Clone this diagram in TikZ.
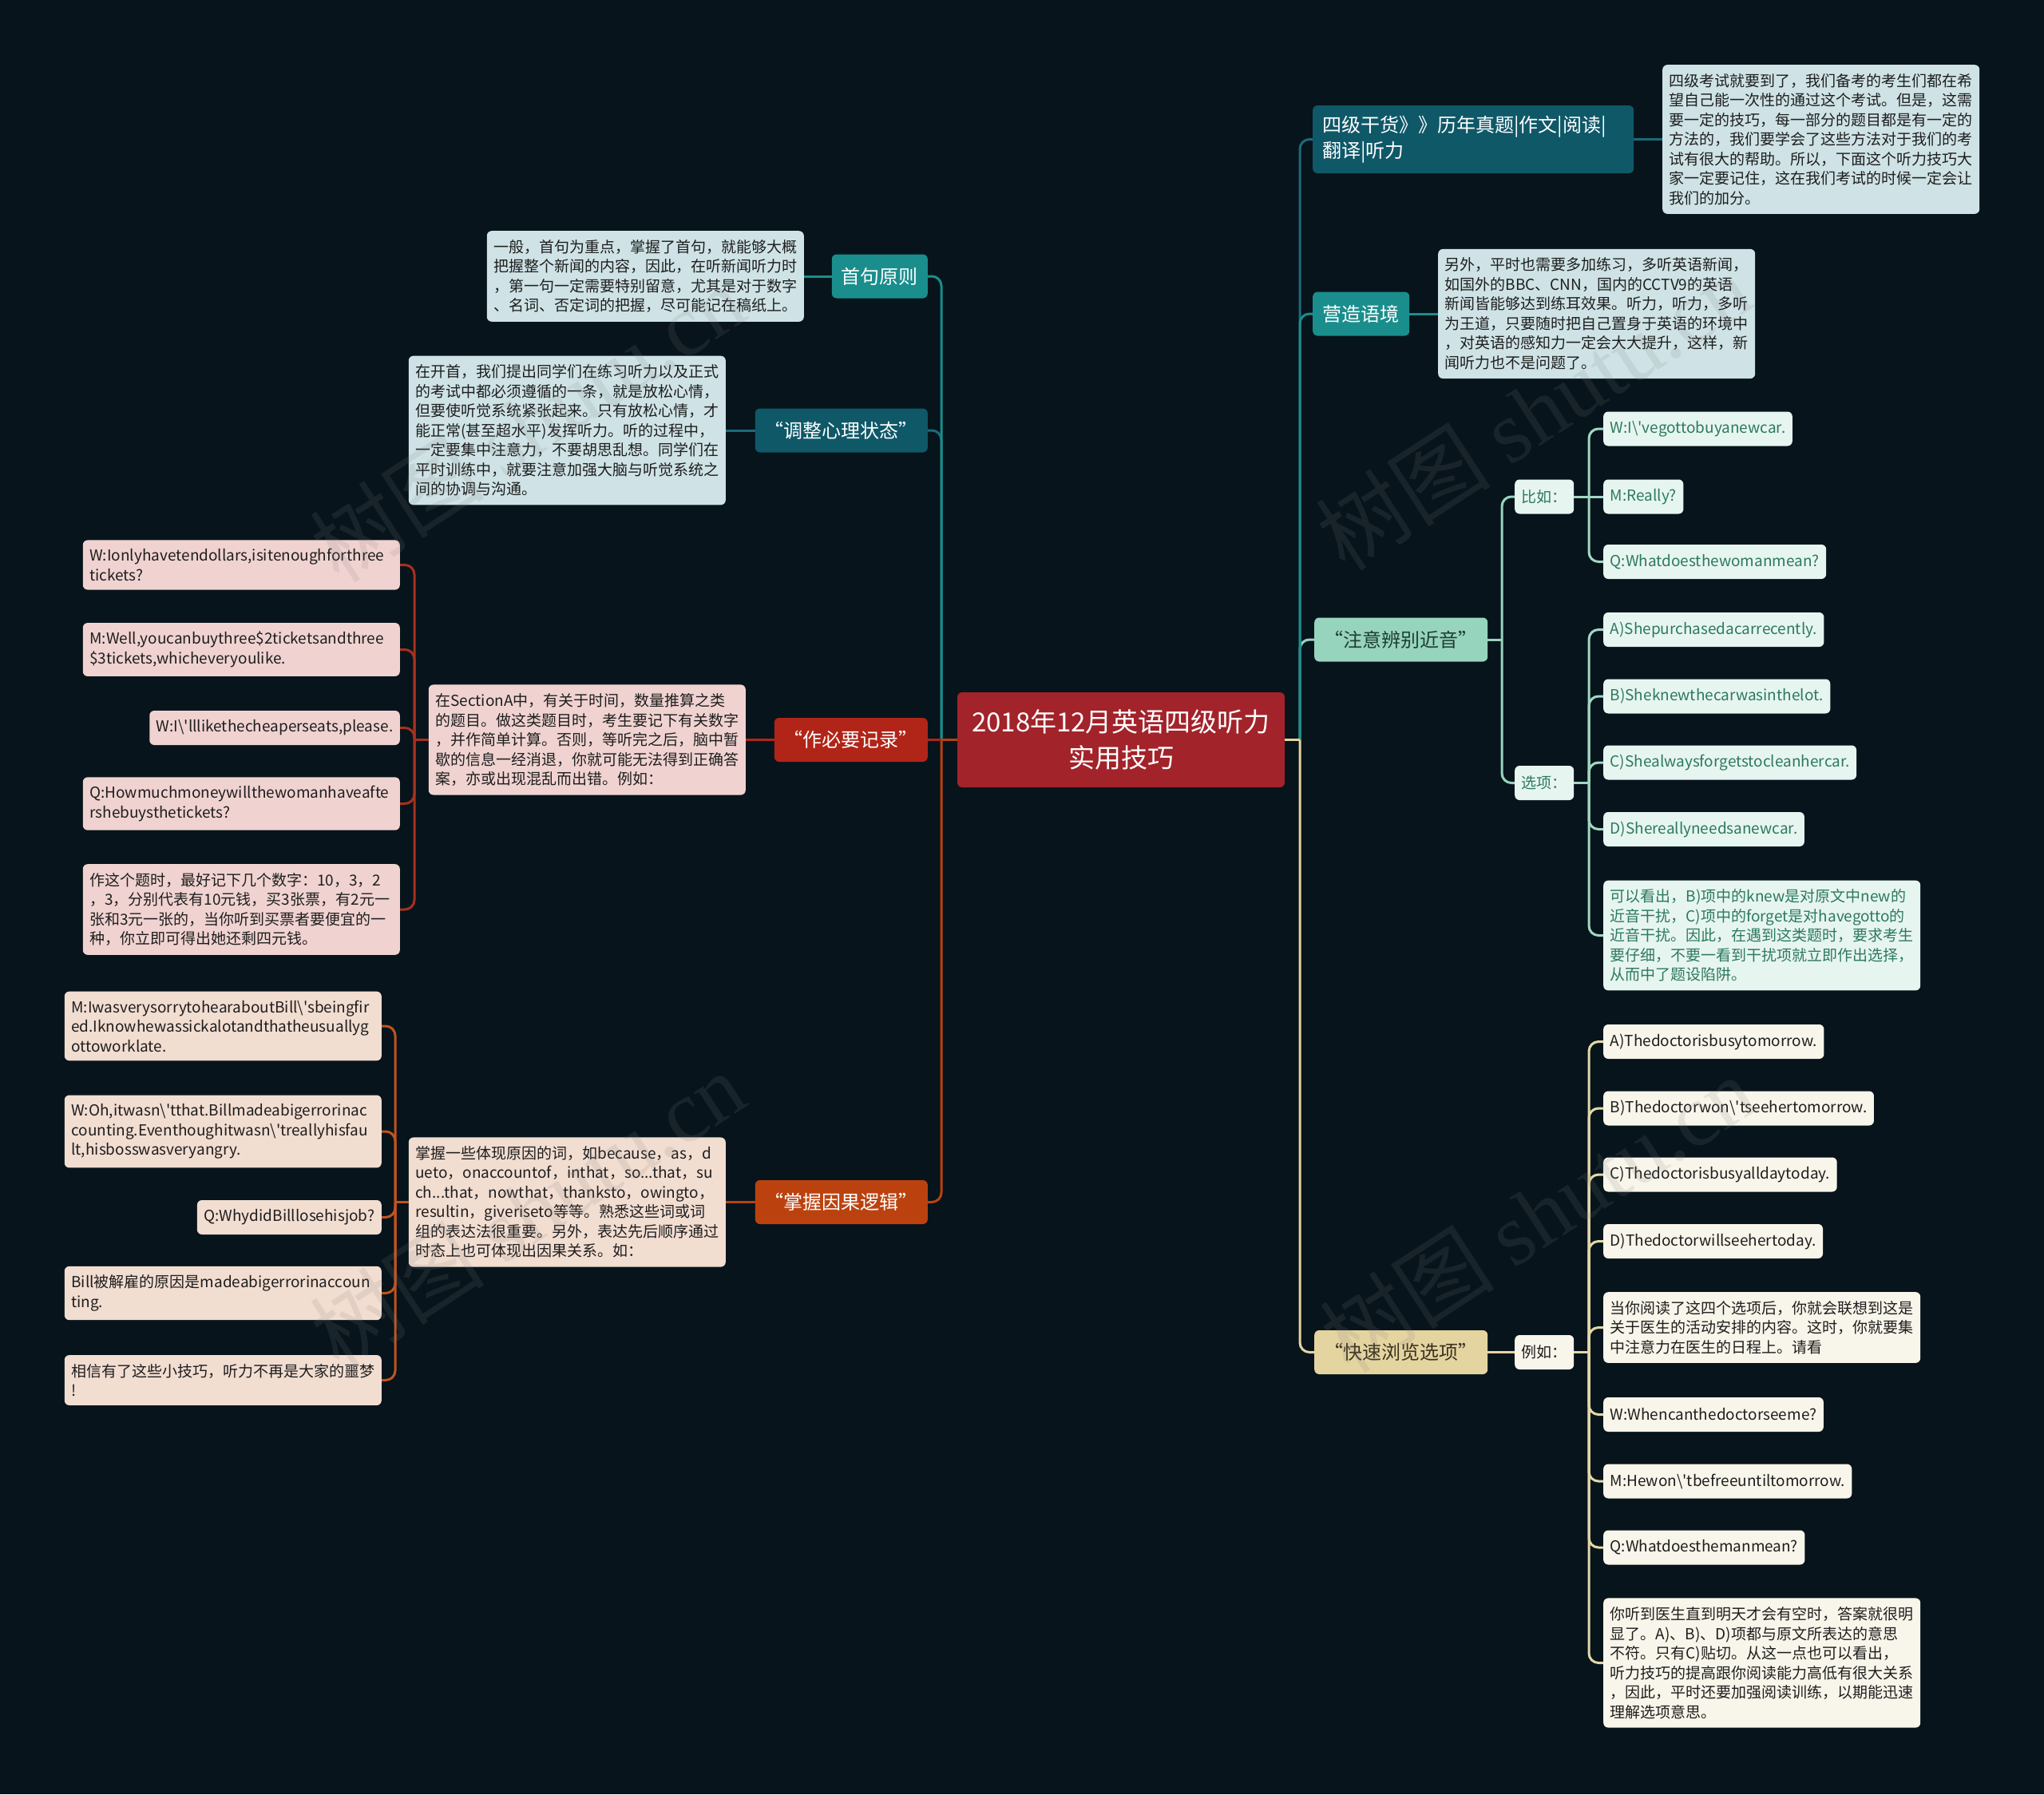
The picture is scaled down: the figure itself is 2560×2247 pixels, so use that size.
\documentclass[tikz,border=0pt]{standalone}
\usepackage{fontspec}
\setmainfont{Noto Sans CJK SC}[Ligatures=TeXOff]
\newfontfamily\wmserif{Liberation Serif}
\definecolor{bgc}{HTML}{07141B}
\definecolor{cRoot}{HTML}{A2232A}
\definecolor{cTeal}{HTML}{1A8E8C}
\definecolor{cDteal}{HTML}{0F5868}
\definecolor{cDtealL}{HTML}{1B6A7A}
\definecolor{cMint}{HTML}{97D4BD}
\definecolor{cMintTxt}{HTML}{1E3E33}
\definecolor{cKhaki}{HTML}{E4D4A0}
\definecolor{cKhakiTxt}{HTML}{3B3220}
\definecolor{cRed}{HTML}{B02518}
\definecolor{cOrange}{HTML}{BB420F}
\definecolor{cBlue}{HTML}{CFE3E6}
\definecolor{cMintLeaf}{HTML}{E7F5F0}
\definecolor{cMintLeafTxt}{HTML}{2C7A5D}
\definecolor{cMintLine}{HTML}{A2D7C3}
\definecolor{cCream}{HTML}{F8F5EA}
\definecolor{cCreamLine}{HTML}{E4D8A8}
\definecolor{cPink}{HTML}{F0D3D1}
\definecolor{cPinkLine}{HTML}{A8301F}
\definecolor{cPeach}{HTML}{F2DDD1}
\definecolor{cPeachLine}{HTML}{C0541E}
\definecolor{cTxt}{HTML}{1E1E1E}
\tikzset{
  box/.style={rounded corners=6pt, inner xsep=8.5pt, inner ysep=11pt, font=\fontsize{19}{24.5}\selectfont, text=cTxt},
  multi/.style={box, text width=380pt, align=left},
  single/.style={box, minimum height=43pt, inner ysep=4pt},
  bluebox/.style={multi, fill=cBlue},
  pinkm/.style={multi, fill=cPink}, pinks/.style={single, fill=cPink},
  peachm/.style={multi, fill=cPeach}, peachs/.style={single, fill=cPeach},
  mintm/.style={multi, fill=cMintLeaf, text=cMintLeafTxt}, mints/.style={single, fill=cMintLeaf, text=cMintLeafTxt},
  creamm/.style={multi, fill=cCream}, creams/.style={single, fill=cCream},
  topic/.style={rounded corners=6pt, minimum height=55pt, inner xsep=12pt, font=\fontsize{24}{32}\selectfont, text=white},
  rootbox/.style={rounded corners=6pt, fill=cRoot, text=white, minimum width=410pt, minimum height=119pt, align=center, font=\fontsize{33}{45}\selectfont},
  conn/.style={line width=3pt, rounded corners=12pt},
  wm/.style={rotate=33, text=gray, opacity=0.15, font=\fontsize{110}{110}\selectfont}
}
\begin{document}
\begin{tikzpicture}[x=1pt,y=-1pt]
\fill[bgc] (0,0) rectangle (2560,2247);
\useasboundingbox (0,0) rectangle (2560,2247);

% root
\node[rootbox] (root) at (1404,926.5) {2018年12月英语四级听力\\实用技巧};

% right topics
\node[topic, fill=cDteal, anchor=west, text width=378pt, align=left, minimum height=85pt] (m1) at (1644,174.5) {四级干货》》历年真题|作文|阅读|\\翻译|听力};
\node[topic, fill=cTeal, anchor=west, minimum width=121pt] (m2) at (1644,393) {营造语境};
\node[topic, fill=cMint, text=cMintTxt, anchor=west, minimum width=217pt] (m3) at (1646,801) {“注意辨别近音”};
\node[topic, fill=cKhaki, text=cKhakiTxt, anchor=west, minimum width=217pt] (m4) at (1646,1693.5) {“快速浏览选项”};

% left topics
\node[topic, fill=cTeal, anchor=east, minimum width=120pt] (l1) at (1162,346) {首句原则};
\node[topic, fill=cDteal, anchor=east, minimum width=215pt] (l2) at (1162,539) {“调整心理状态”};
\node[topic, fill=cRed, anchor=east, minimum width=192pt] (l3) at (1162,926.5) {“作必要记录”};
\node[topic, fill=cOrange, anchor=east, minimum width=215pt] (l4) at (1162,1505.5) {“掌握因果逻辑”};

% descriptions
\node[bluebox, anchor=west] (d1) at (2082,174.5) {四级考试就要到了，我们备考的考生们都在希\\望自己能一次性的通过这个考试。但是，这需\\要一定的技巧，每一部分的题目都是有一定的\\方法的，我们要学会了这些方法对于我们的考\\试有很大的帮助。所以，下面这个听力技巧大\\家一定要记住，这在我们考试的时候一定会让\\我们的加分。};
\node[bluebox, anchor=west] (d2) at (1801,393) {另外，平时也需要多加练习，多听英语新闻，\\如国外的BBC、CNN，国内的CCTV9的英语\\新闻皆能够达到练耳效果。听力，听力，多听\\为王道，只要随时把自己置身于英语的环境中\\，对英语的感知力一定会大大提升，这样，新\\闻听力也不是问题了。};
\node[bluebox, anchor=east] (dl1) at (1007,346) {一般，首句为重点，掌握了首句，就能够大概\\把握整个新闻的内容，因此，在听新闻听力时\\，第一句一定需要特别留意，尤其是对于数字\\、名词、否定词的把握，尽可能记在稿纸上。};
\node[bluebox, anchor=east] (dl2) at (909,539) {在开首，我们提出同学们在练习听力以及正式\\的考试中都必须遵循的一条，就是放松心情，\\但要使听觉系统紧张起来。只有放松心情，才\\能正常(甚至超水平)发挥听力。听的过程中，\\一定要集中注意力，不要胡思乱想。同学们在\\平时训练中，就要注意加强大脑与听觉系统之\\间的协调与沟通。};
\node[pinkm, anchor=east] (dl3) at (934,926.5) {在SectionA中，有关于时间，数量推算之类\\的题目。做这类题目时，考生要记下有关数字\\，并作简单计算。否则，等听完之后，脑中暂\\歇的信息一经消退，你就可能无法得到正确答\\案，亦或出现混乱而出错。例如：};
\node[peachm, anchor=east] (dl4) at (909,1505.5) {掌握一些体现原因的词，如because，as，d\\ueto，onaccountof，inthat，so...that，su\\ch...that，nowthat，thanksto，owingto，\\resultin，giveriseto等等。熟悉这些词或词\\组的表达法很重要。另外，表达先后顺序通过\\时态上也可体现出因果关系。如：};

% third level right
\node[mints, anchor=west] (bi) at (1897,622) {比如：};
\node[mints, anchor=west] (xx) at (1897,980.5) {选项：};
\node[creams, anchor=west] (lr) at (1897,1693.5) {例如：};

\node[mints, anchor=west] (b1) at (2008,537) {W:I\textbackslash'vegottobuyanewcar.};
\node[mints, anchor=west] (b2) at (2008,622) {M:Really?};
\node[mints, anchor=west] (b3) at (2008,703.5) {Q:Whatdoesthewomanmean?};

\node[mints, anchor=west] (x1) at (2008,788.5) {A)Shepurchasedacarrecently.};
\node[mints, anchor=west] (x2) at (2008,872) {B)Sheknewthecarwasinthelot.};
\node[mints, anchor=west] (x3) at (2008,955) {C)Shealwaysforgetstocleanhercar.};
\node[mints, anchor=west] (x4) at (2008,1038.5) {D)Shereallyneedsanewcar.};
\node[mintm, anchor=west] (x5) at (2008,1171.5) {可以看出，B)项中的knew是对原文中new的\\近音干扰，C)项中的forget是对havegotto的\\近音干扰。因此，在遇到这类题时，要求考生\\要仔细，不要一看到干扰项就立即作出选择，\\从而中了题设陷阱。};

\node[creams, anchor=west] (e1) at (2008,1304.5) {A)Thedoctorisbusytomorrow.};
\node[creams, anchor=west] (e2) at (2008,1388) {B)Thedoctorwon\textbackslash'tseehertomorrow.};
\node[creams, anchor=west] (e3) at (2008,1471) {C)Thedoctorisbusyalldaytoday.};
\node[creams, anchor=west] (e4) at (2008,1554.5) {D)Thedoctorwillseehertoday.};
\node[creamm, anchor=west] (e5) at (2008,1662.5) {当你阅读了这四个选项后，你就会联想到这是\\关于医生的活动安排的内容。这时，你就要集\\中注意力在医生的日程上。请看};
\node[creams, anchor=west] (e6) at (2008,1771.5) {W:Whencanthedoctorseeme?};
\node[creams, anchor=west] (e7) at (2008,1855) {M:Hewon\textbackslash'tbefreeuntiltomorrow.};
\node[creams, anchor=west] (e8) at (2008,1938) {Q:Whatdoesthemanmean?};
\node[creamm, anchor=west] (e9) at (2008,2082.5) {你听到医生直到明天才会有空时，答案就很明\\显了。A)、B)、D)项都与原文所表达的意思\\不符。只有C)贴切。从这一点也可以看出，\\听力技巧的提高跟你阅读能力高低有很大关系\\，因此，平时还要加强阅读训练，以期能迅速\\理解选项意思。};

% left leaves
\node[pinkm, anchor=east] (p1) at (501,707.5) {W:Ionlyhavetendollars,isitenoughforthree\\tickets?};
\node[pinkm, anchor=east] (p2) at (501,813.5) {M:Well,youcanbuythree\$2ticketsandthree\\\$3tickets,whicheveryoulike.};
\node[pinks, anchor=east] (p3) at (501,911.5) {W:I\textbackslash'lllikethecheaperseats,please.};
\node[pinkm, anchor=east] (p4) at (501,1006.5) {Q:Howmuchmoneywillthewomanhaveafte\\rshebuysthetickets?};
\node[pinkm, anchor=east] (p5) at (501,1139) {作这个题时，最好记下几个数字：10，3，2\\，3，分别代表有10元钱，买3张票，有2元一\\张和3元一张的，当你听到买票者要便宜的一\\种，你立即可得出她还剩四元钱。};

\node[peachm, anchor=east] (q1) at (478,1285) {M:IwasverysorrytohearaboutBill\textbackslash'sbeingfir\\ed.Iknowhewassickalotandthatheusuallyg\\ottoworklate.};
\node[peachm, anchor=east] (q2) at (478,1417) {W:Oh,itwasn\textbackslash'tthat.Billmadeabigerrorinac\\counting.Eventhoughitwasn\textbackslash'treallyhisfau\\lt,hisbosswasveryangry.};
\node[peachs, anchor=east] (q3) at (478,1524.5) {Q:WhydidBilllosehisjob?};
\node[peachm, anchor=east] (q4) at (478,1619.5) {Bill被解雇的原因是madeabigerrorinaccoun\\ting.};
\node[peachm, anchor=east] (q5) at (478,1728.5) {相信有了这些小技巧，听力不再是大家的噩梦\\!};

% ---- connectors
\coordinate (rs) at (1628,926.5);
\draw[conn,cMint] (rs) |- (m3.west);
\draw[conn,cDtealL] (rs) |- (m1.west);
\draw[conn,cTeal] (rs) |- (m2.west);
\draw[conn,cKhaki] (rs) |- (m4.west);
\draw[conn,cKhaki] (root.east) -- (rs);

\coordinate (ls) at (1179,926.5);
\draw[conn,cDtealL] (ls) |- (l2.east);
\draw[conn,cTeal] (ls) |- (l1.east);
\draw[conn,cOrange] (ls) |- (l4.east);
\draw[conn,cRed] (ls) -- (l3.east);
\draw[conn,cOrange] (root.west) -- (ls);

\draw[conn,cDtealL] (m1.east) -- (d1.west);
\draw[conn,cTeal] (m2.east) -- (d2.west);
\draw[conn,cTeal] (l1.west) -- (dl1.east);
\draw[conn,cDtealL] (l2.west) -- (dl2.east);
\draw[conn,cRed] (l3.west) -- (dl3.east);
\draw[conn,cOrange] (l4.west) -- (dl4.east);
\draw[conn,cKhaki] (m4.east) -- (lr.west);

\coordinate (zs) at (1881,801);
\draw[conn,cMint] (m3.east) -- (zs);
\draw[conn,cMint] (zs) |- (bi.west);
\draw[conn,cMint] (zs) |- (xx.west);

\coordinate (bs) at (1990,622);
\draw[conn,cMintLine] (bi.east) -- (bs);
\draw[conn,cMintLine] (bs) |- (b1.west);
\draw[conn,cMintLine] (bs) -- (b2.west);
\draw[conn,cMintLine] (bs) |- (b3.west);

\coordinate (xs) at (1990,980.5);
\draw[conn,cMintLine] (xx.east) -- (xs);
\foreach \n in {x1,x2,x3,x4,x5} \draw[conn,cMintLine] (xs) |- (\n.west);

\coordinate (es) at (1990,1693.5);
\draw[conn,cCreamLine] (lr.east) -- (es);
\foreach \n in {e1,e2,e3,e4,e5,e6,e7,e8,e9} \draw[conn,cCreamLine] (es) |- (\n.west);

\coordinate (ps) at (519,926.5);
\draw[conn,cPinkLine] (dl3.west) -- (ps);
\foreach \n in {p1,p2,p3,p4,p5} \draw[conn,cPinkLine] (ps) |- (\n.east);

\coordinate (qs) at (495,1505.5);
\draw[conn,cPeachLine] (dl4.west) -- (qs);
\foreach \n in {q1,q2,q3,q4,q5} \draw[conn,cPeachLine] (qs) |- (\n.east);

% watermarks
\node[wm] (wm1) at (660,530) {树图 {\wmserif shutu.cn}};
\node[wm] (wm2) at (1920,515) {树图 {\wmserif shutu.cn}};
\node[wm] (wm3) at (660,1515) {树图 {\wmserif shutu.cn}};
\node[wm] (wm4) at (1925,1520) {树图 {\wmserif shutu.cn}};
\end{tikzpicture}
\end{document}
